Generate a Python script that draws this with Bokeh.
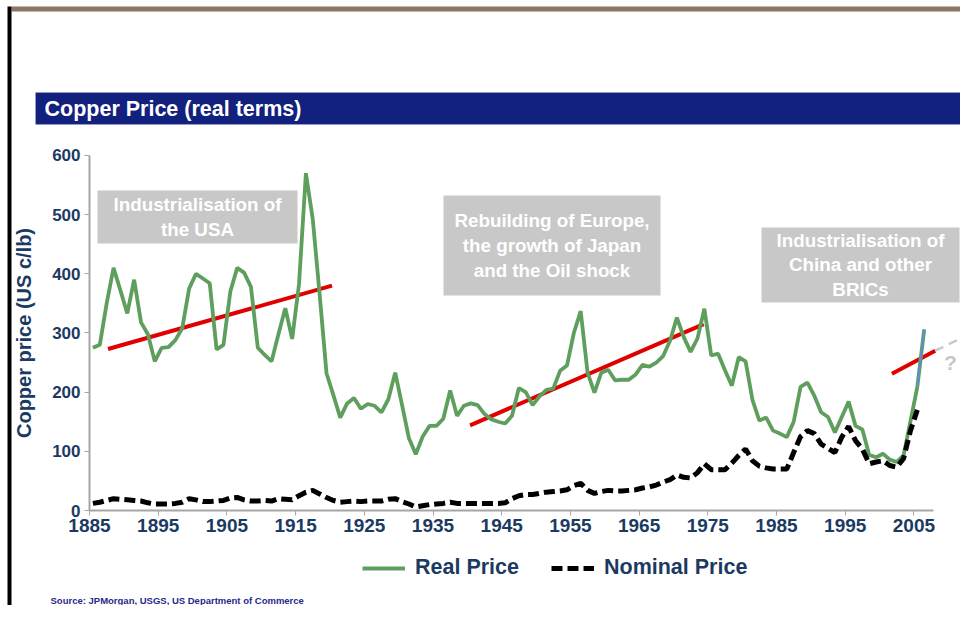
from bokeh.plotting import figure
from bokeh.models import (Range1d, FixedTicker, BoxAnnotation, Label, Legend,
                          LegendItem, ColumnDataSource)
from bokeh.embed import file_html
from bokeh.resources import INLINE

# ---------------- data ----------------
years_real = list(range(1885, 2007))
real_price = [275, 280, 350, 410, 372, 333, 390, 318, 298, 252,
              275, 276, 288, 308, 375, 400, 392, 384, 272, 280,
              370, 410, 402, 378, 275, 263, 252, 298, 342, 290,
              383, 570, 492, 365, 232, 195, 157, 181, 190, 172,
              180, 177, 166, 188, 233, 178, 122, 95, 125, 143,
              143, 155, 203, 160, 177, 181, 178, 163, 154, 150,
              147, 160, 207, 200, 178, 193, 204, 206, 236, 245,
              300, 337, 233, 199, 233, 238, 220, 221, 221, 230,
              246, 243, 250, 261, 287, 326, 293, 268, 291, 341,
              262, 265, 237, 211, 259, 252, 187, 152, 157, 135,
              130, 124, 150, 209, 216, 194, 166, 158, 132, 158,
              184, 143, 137, 94, 90, 96, 86, 82, 93, 151,
              209, 306]

years_nominal = list(range(1885, 2006))
nominal_price = [12, 14, 17, 20, 19, 18, 17, 16, 13, 11,
                 11, 11, 12, 14, 20, 18, 15, 15, 16, 17,
                 21, 22, 18, 16, 16, 17, 16, 20, 19, 18,
                 25, 31, 34, 28, 22, 17, 14, 15, 16, 15,
                 16, 16, 16, 19, 20, 15, 11, 6, 8, 10,
                 11, 12, 14, 12, 12, 12, 12, 12, 12, 12,
                 13, 20, 25, 27, 27, 29, 31, 32, 33, 35,
                 42, 46, 34, 29, 32, 34, 33, 33, 34, 35,
                 38, 40, 43, 48, 52, 60, 56, 55, 64, 79,
                 69, 69, 69, 80, 93, 104, 84, 75, 72, 70,
                 70, 70, 98, 125, 135, 130, 112, 105, 98, 124,
                 142, 118, 104, 79, 82, 84, 76, 73, 88, 135,
                 170]

trend_x = [[1887.7, 1920.3], [1940.4, 1974.4], [2001.8, 2008.1]]
trend_y = [[273, 380], [144, 315], [231, 270]]
outlook_x = [2008.1, 2014.0]
outlook_y = [270, 303]

x_tick_years = list(range(1885, 2006, 10))
y_tick_values = list(range(0, 601, 100))

annotations = [
    "Industrialisation of\nthe USA",
    "Rebuilding of Europe,\nthe growth of Japan\nand the Oil shock",
    "Industrialisation of\nChina and other\nBRICs",
]

# ---------------- layout helpers (pixel position -> data) ----------------
def px_x(rx):
    return 1885 + (rx - 89.0) / 6.87


def px_y(ry):
    return (510.0 - ry) / 0.5917


W, H = 960, 605
NAVY = "#1B3A62"
GREEN = "#5E9F5E"
FONT = "Liberation Sans"

# the frame fills the whole canvas; axes are pinned inside it
p = figure(width=W, height=H,
           x_range=Range1d(px_x(0), px_x(W)), y_range=Range1d(px_y(H), px_y(0)),
           output_backend="svg", toolbar_location=None,
           min_border=0, min_border_left=0, min_border_right=0,
           min_border_top=0, min_border_bottom=0)
p.outline_line_color = None
p.background_fill_color = "white"
p.border_fill_color = "white"
p.xgrid.visible = False
p.ygrid.visible = False

# axes
for ax in (p.xaxis[0], p.yaxis[0]):
    ax.axis_line_color = "#A6A6A6"
    ax.axis_line_width = 2
    ax.major_tick_line_color = "#A6A6A6"
    ax.major_tick_line_width = 1
    ax.major_tick_out = 5
    ax.major_tick_in = 0
    ax.minor_tick_line_color = None
    ax.major_label_text_color = NAVY
    ax.major_label_text_font = FONT
    ax.major_label_text_font_style = "bold"

p.xaxis.fixed_location = 0
p.xaxis.ticker = FixedTicker(ticks=x_tick_years)
p.xaxis.bounds = (1885, px_x(933))
p.xaxis.major_label_text_font_size = "19px"
p.xaxis.major_label_standoff = 3

p.yaxis.fixed_location = 1885
p.yaxis.ticker = FixedTicker(ticks=y_tick_values)
p.yaxis.bounds = (0, 600)
p.yaxis.major_label_text_font_size = "17px"
p.yaxis.major_label_standoff = 4
p.yaxis.axis_label = "Copper price (US c/lb)"
p.yaxis.axis_label_text_font = FONT
p.yaxis.axis_label_text_font_size = "20px"
p.yaxis.axis_label_text_font_style = "bold"
p.yaxis.axis_label_text_color = NAVY
p.yaxis.axis_label_standoff = 14

# slide decorations
p.add_layout(BoxAnnotation(left=px_x(11), right=px_x(990), top=px_y(6), bottom=px_y(11),
                           fill_color="#8B7767", fill_alpha=1, line_color=None))
p.add_layout(BoxAnnotation(left=px_x(7), right=px_x(11), top=px_y(6), bottom=px_y(640),
                           fill_color="black", fill_alpha=1, line_color=None))
# title bar
p.add_layout(BoxAnnotation(left=px_x(35), right=px_x(990), top=px_y(92), bottom=px_y(124),
                           fill_color="#12207E", fill_alpha=1, line_color="#AEB8D8",
                           line_width=1))
p.add_layout(Label(x=px_x(44), y=px_y(108), text="Copper Price (real terms)",
                   text_baseline="middle", text_align="left", text_color="white",
                   text_font=FONT, text_font_size="21.5px", text_font_style="bold"))

# annotation boxes
boxes = [(97, 297, 190, 243), (443, 660, 195, 295), (761, 959, 227, 302)]
for (l, r, t, b), txt in zip(boxes, annotations):
    p.add_layout(BoxAnnotation(left=px_x(l), right=px_x(r), top=px_y(t), bottom=px_y(b),
                               fill_color="#C8C8C8", fill_alpha=1, line_color=None))
    p.add_layout(Label(x=px_x((l + r) / 2), y=px_y((t + b) / 2), text=txt,
                       text_align="center", text_baseline="middle", text_color="white",
                       text_font=FONT, text_font_size="18.8px", text_font_style="bold",
                       text_line_height=1.18))

# data series
src_real = ColumnDataSource(dict(x=[y + 0.5 for y in years_real], y=real_price))
src_nom = ColumnDataSource(dict(x=[y + 0.5 for y in years_nominal], y=nominal_price))

p.multi_line(trend_x, trend_y, line_color="#E00000", line_width=4)
p.line(outlook_x, outlook_y, line_color="#C8C8C8", line_width=2.5, line_dash="9 6")
r_real = p.line("x", "y", source=src_real, line_color=GREEN, line_width=3.8)
r_nom = p.line("x", "y", source=src_nom, line_color="black", line_width=5,
               line_dash="11 5")
p.line([y + 0.5 for y in years_real[-2:]], real_price[-2:], line_color="#5B8FD0",
       line_width=2)

p.add_layout(Label(x=px_x(950), y=px_y(362), text="?", text_align="center",
                   text_baseline="middle", text_color="#C8C8C8", text_font=FONT,
                   text_font_size="21px", text_font_style="bold"))

legend = Legend(items=[LegendItem(label="Real Price", renderers=[r_real]),
                       LegendItem(label="Nominal Price", renderers=[r_nom])],
                orientation="horizontal", location=(362, H - 580))
legend.label_text_font = FONT
legend.label_text_font_size = "21.5px"
legend.label_text_font_style = "bold"
legend.label_text_color = NAVY
legend.background_fill_alpha = 0
legend.border_line_color = None
legend.padding = 0
legend.margin = 0
legend.spacing = 32
legend.glyph_width = 43
legend.glyph_height = 20
legend.label_standoff = 10
p.add_layout(legend)

p.add_layout(Label(x=px_x(50), y=px_y(600), text="Source: JPMorgan, USGS, US Department of Commerce",
                   text_align="left", text_baseline="alphabetic", text_color="#1F2A8A",
                   text_font=FONT, text_font_size="9.5px", text_font_style="bold"))

open("out.html", "w").write(file_html(p, INLINE))
